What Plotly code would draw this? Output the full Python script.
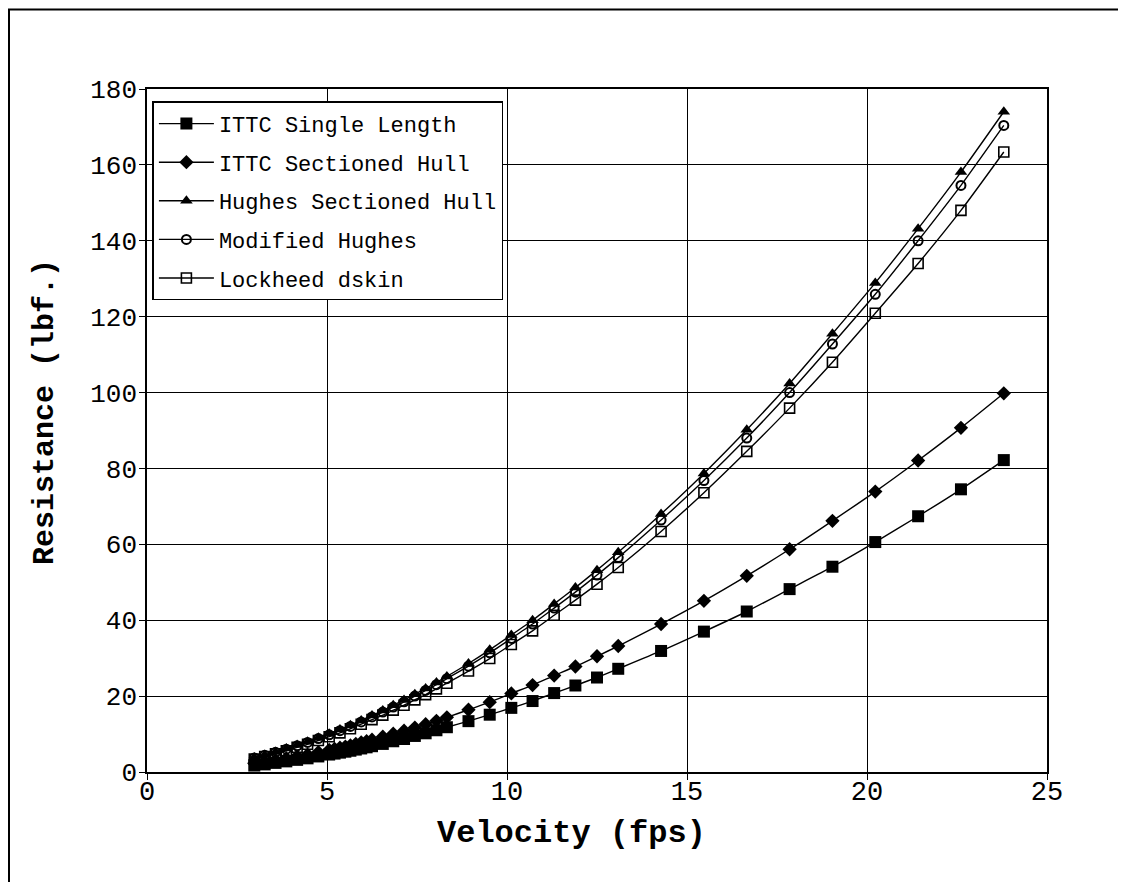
import plotly.graph_objects as go

# ---- data ----
x_ittc = [2.98, 3.27, 3.57, 3.87, 4.17, 4.46, 4.76, 5.06, 5.21, 5.36, 5.51, 5.65, 5.80, 5.95, 6.10, 6.25,
          6.55, 6.84, 7.14, 7.44, 7.74, 8.04, 8.33, 8.93, 9.52, 10.12, 10.71, 11.31, 11.90, 12.50, 13.09,
          14.28, 15.47, 16.66, 17.85, 19.04, 20.23, 21.42, 22.61, 23.80]
ittc_single = [1.7, 2.0, 2.4, 2.8, 3.2, 3.6, 4.1, 4.6, 4.85, 5.1, 5.35, 5.6, 5.9, 6.2, 6.5, 6.8,
               7.4, 8.1, 8.7, 9.5, 10.2, 11.0, 11.8, 13.4, 15.1, 16.9, 18.7, 20.8, 22.8, 24.9, 27.2,
               31.9, 37.0, 42.3, 48.2, 54.1, 60.6, 67.4, 74.5, 82.2]
ittc_sectioned = [2.3, 2.7, 3.1, 3.6, 4.1, 4.6, 5.2, 5.8, 6.1, 6.4, 6.7, 7.0, 7.4, 7.8, 8.1, 8.5,
                  9.3, 10.1, 10.9, 11.7, 12.6, 13.5, 14.4, 16.4, 18.4, 20.7, 22.9, 25.4, 27.8, 30.5, 33.2,
                  39.0, 45.1, 51.7, 58.7, 66.2, 73.9, 82.1, 90.7, 99.8]

x_hughes = [2.98, 3.27, 3.57, 3.87, 4.17, 4.46, 4.76, 5.06, 5.36, 5.65, 5.95, 6.25, 6.55, 6.84, 7.14,
            7.44, 7.74, 8.04, 8.33, 8.93, 9.52, 10.12, 10.71, 11.31, 11.90, 12.50, 13.09, 14.28, 15.47,
            16.66, 17.85, 19.04, 20.23, 21.42, 22.61, 23.80]
hughes_sectioned = [3.8, 4.5, 5.3, 6.2, 7.1, 8.0, 9.0, 10.1, 11.2, 12.3, 13.6, 14.9, 16.2, 17.6, 19.0,
                    20.5, 22.0, 23.6, 25.2, 28.6, 32.2, 36.1, 40.0, 44.3, 48.6, 53.2, 57.9, 68.0, 78.7,
                    90.2, 102.4, 115.5, 128.9, 143.2, 158.1, 174.0]
modified_hughes = [3.7, 4.4, 5.2, 6.0, 6.9, 7.8, 8.8, 9.8, 10.9, 12.0, 13.2, 14.5, 15.8, 17.1, 18.5,
                   20.0, 21.5, 23.0, 24.6, 27.9, 31.4, 35.2, 39.0, 43.2, 47.4, 51.9, 56.5, 66.4, 76.8,
                   88.0, 100.0, 112.8, 125.9, 140.0, 154.6, 170.4]
lockheed_dskin = [3.4, 4.1, 4.8, 5.6, 6.5, 7.3, 8.3, 9.3, 10.3, 11.4, 12.6, 13.8, 15.0, 16.3, 17.6,
                  19.0, 20.4, 21.9, 23.4, 26.6, 29.9, 33.6, 37.2, 41.3, 45.3, 49.5, 53.9, 63.4, 73.6,
                  84.5, 95.9, 108.0, 120.9, 134.0, 148.0, 163.4]

series_names = ["ITTC Single Length", "ITTC Sectioned Hull", "Hughes Sectioned Hull",
                "Modified Hughes", "Lockheed dskin"]
x_ticks = [0, 5, 10, 15, 20, 25]
y_ticks = [0, 20, 40, 60, 80, 100, 120, 140, 160, 180]

MONO = "Liberation Mono, Courier New, monospace"

fig = go.Figure()
specs = [
    (x_ittc, ittc_single, "square", 12, 0),
    (x_ittc, ittc_sectioned, "diamond", 11, 0),
    (x_hughes, hughes_sectioned, "triangle-up", 11, 0),
    (x_hughes, modified_hughes, "circle-open", 9, 2),
    (x_hughes, lockheed_dskin, "square-open", 10, 1.6),
]
for i, (xs, ys, sym, sz, lw) in enumerate(specs):
    fig.add_trace(go.Scatter(
        x=xs, y=ys, name=series_names[i], mode="lines+markers",
        line=dict(color="black", width=1.4, shape="spline", smoothing=0.6),
        marker=dict(symbol=sym, size=sz, color="black",
                    line=dict(color="black", width=lw)),
        legendgroup=f"g{i}",
    ))

# page has an 8px body margin: plot area should sit at page x 147..1047, y 89..772
fig.update_layout(
    width=1126, height=882,
    margin=dict(l=139, r=87, t=81, b=118),
    paper_bgcolor="white", plot_bgcolor="white",
    font=dict(family=MONO, color="black", size=24),
    showlegend=True,
    legend=dict(
        x=0.006, y=0.982, xanchor="left", yanchor="top",
        bgcolor="white", bordercolor="black", borderwidth=1.5,
        font=dict(family=MONO, size=22, color="black"),
        tracegroupgap=7, itemwidth=55,
    ),
    xaxis=dict(
        range=[0, 25], tickvals=x_ticks, ticks="outside", ticklen=6, tickcolor="black",
        showgrid=True, gridcolor="black", gridwidth=1,
        showline=True, linecolor="black", linewidth=1.5, mirror=True,
        zeroline=False, tickfont=dict(family=MONO, size=27), fixedrange=True,
    ),
    yaxis=dict(
        range=[0, 180], tickvals=y_ticks, ticks="outside", ticklen=6, tickcolor="black",
        showgrid=True, gridcolor="black", gridwidth=1,
        showline=True, linecolor="black", linewidth=1.5, mirror=True,
        zeroline=False, tickfont=dict(family=MONO, size=26), fixedrange=True,
    ),
    annotations=[
        dict(text="<b>Velocity (fps)</b>", xref="paper", yref="paper",
             x=(571 - 147) / 900, y=(772 - 833) / 683, showarrow=False,
             xanchor="center", yanchor="middle",
             font=dict(family=MONO, size=32, color="black")),
        dict(text="<b>Resistance (lbf.)</b>", xref="paper", yref="paper",
             x=(45 - 147) / 900, y=(772 - 412) / 683, showarrow=False, textangle=-90,
             xanchor="center", yanchor="middle",
             font=dict(family=MONO, size=30, color="black")),
    ],
    shapes=[
        dict(type="rect", xref="paper", yref="paper",
             x0=(9 - 147) / 900, x1=(1140 - 147) / 900,
             y0=(772 - 900) / 683, y1=(772 - 9.5) / 683,
             line=dict(color="black", width=2), fillcolor="rgba(0,0,0,0)", layer="below"),
    ],
)

# pull tick labels a little closer to the axes
try:
    fig.update_xaxes(ticklabelstandoff=-12)
    fig.update_yaxes(ticklabelstandoff=-3)
except Exception:
    pass

fig.write_html("out.html")
